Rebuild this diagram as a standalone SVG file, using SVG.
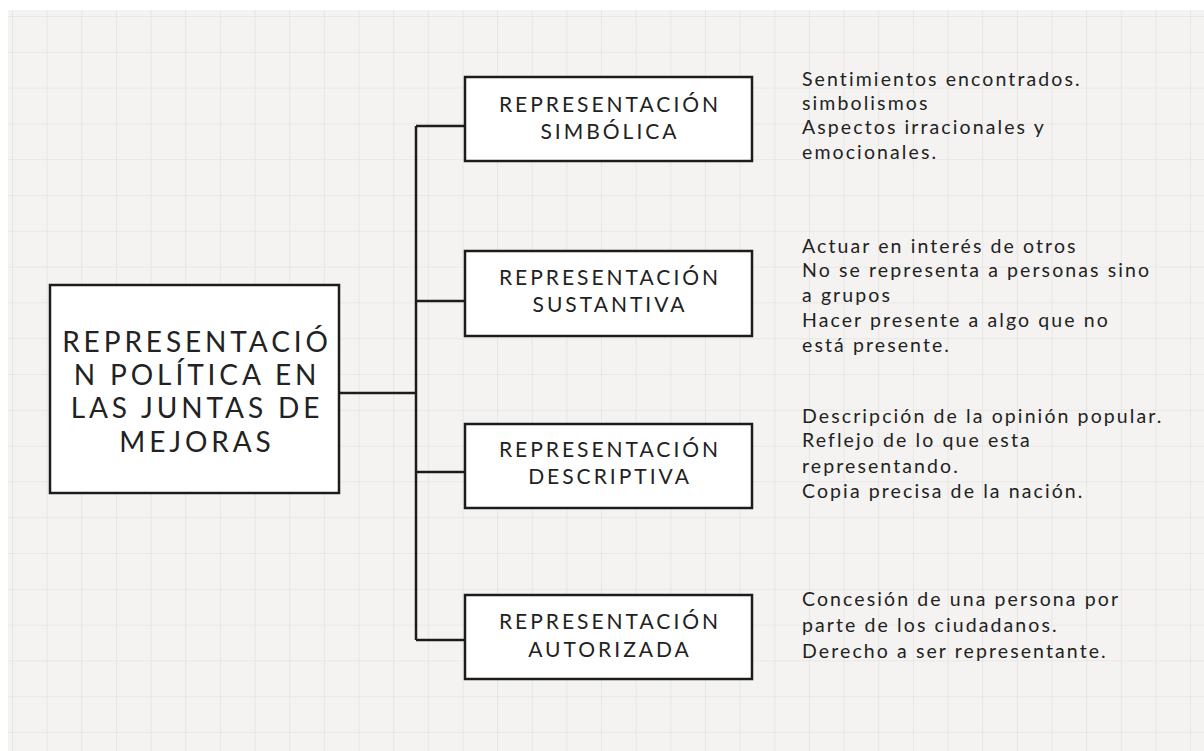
<svg xmlns="http://www.w3.org/2000/svg" width="1204" height="751" viewBox="0 0 1204 751">
<defs>
<pattern id="grid" x="12" y="16" width="34.65" height="35.8" patternUnits="userSpaceOnUse">
<path d="M0 0V35.8M0 0H34.65" fill="none" stroke="#dedede" stroke-width="1.2"/>
</pattern>
</defs>
<style>
.box{fill:#ffffff;stroke:#1c1c1c;stroke-width:2.5}
.conn{fill:none;stroke:#1c1c1c;stroke-width:2.5}
.t{font-family:Lato,"Open Sans",sans-serif;fill:#222;text-anchor:middle}
.main{font-size:28px;letter-spacing:3.9px}
.sub{font-size:21px;letter-spacing:3px}
.note{font-family:Lato,"Open Sans",sans-serif;fill:#222;font-size:19.5px;letter-spacing:2.1px}
</style>
<rect width="1204" height="751" fill="#ffffff"/>
<rect x="8" y="10" width="1196" height="741" fill="#f4f3f1"/>
<rect x="8" y="10" width="1196" height="741" fill="url(#grid)"/>
<g id="connectors">
<path class="conn" d="M339 393H416M416 126V640M416 126H465M416 301H465M416 472H465M416 640H465"/>
</g>
<g id="main">
<rect class="box" x="50" y="285" width="289" height="208"/>
<text class="t main" x="197" y="352">REPRESENTACIÓ</text>
<text class="t main" x="197" y="385">N POLÍTICA EN</text>
<text class="t main" x="197" y="418">LAS JUNTAS DE</text>
<text class="t main" x="197" y="452">MEJORAS</text>
</g>
<g id="simbolica">
<rect class="box" x="465" y="77" width="287" height="84"/>
<text class="t sub" x="610" y="112">REPRESENTACIÓN</text>
<text class="t sub" x="610" y="139">SIMBÓLICA</text>
</g>
<g id="sustantiva">
<rect class="box" x="465" y="251" width="287" height="85"/>
<text class="t sub" x="610" y="285">REPRESENTACIÓN</text>
<text class="t sub" x="610" y="312">SUSTANTIVA</text>
</g>
<g id="descriptiva">
<rect class="box" x="465" y="424" width="287" height="84"/>
<text class="t sub" x="610" y="457">REPRESENTACIÓN</text>
<text class="t sub" x="610" y="484">DESCRIPTIVA</text>
</g>
<g id="autorizada">
<rect class="box" x="465" y="595" width="287" height="84"/>
<text class="t sub" x="610" y="629">REPRESENTACIÓN</text>
<text class="t sub" x="610" y="657">AUTORIZADA</text>
</g>
<g id="notes">
<text class="note" x="802" y="86">Sentimientos encontrados.</text>
<text class="note" x="802" y="110">simbolismos</text>
<text class="note" x="802" y="134">Aspectos irracionales y</text>
<text class="note" x="802" y="159">emocionales.</text>
<text class="note" x="802" y="253">Actuar en interés de otros</text>
<text class="note" x="802" y="277">No se representa a personas sino</text>
<text class="note" x="802" y="302">a grupos</text>
<text class="note" x="802" y="327">Hacer presente a algo que no</text>
<text class="note" x="802" y="352">está presente.</text>
<text class="note" x="802" y="423">Descripción de la opinión popular.</text>
<text class="note" x="802" y="447">Reflejo de lo que esta</text>
<text class="note" x="802" y="473">representando.</text>
<text class="note" x="802" y="498">Copia precisa de la nación.</text>
<text class="note" x="802" y="606">Concesión de una persona por</text>
<text class="note" x="802" y="632">parte de los ciudadanos.</text>
<text class="note" x="802" y="658">Derecho a ser representante.</text>
</g>
</svg>
